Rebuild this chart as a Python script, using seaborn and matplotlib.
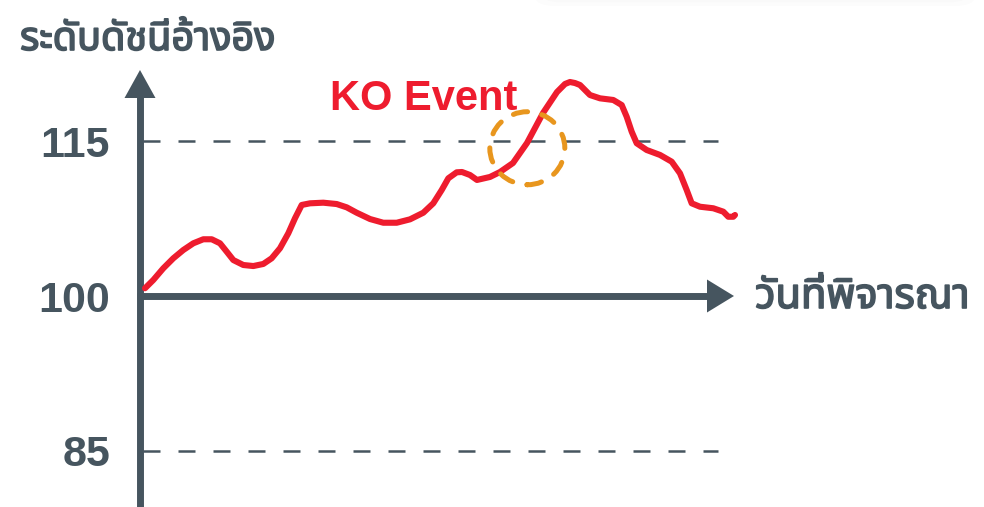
import numpy as np
import pandas as pd
import seaborn as sns
import matplotlib
matplotlib.use("Agg")
import matplotlib.pyplot as plt
from matplotlib import font_manager
from matplotlib.ft2font import FT2Font
from matplotlib.patches import Polygon, Ellipse, FancyBboxPatch
import matplotlib.patheffects as pe

# ---------------- data ----------------
days = [0.00, 1.41, 3.10, 4.80, 6.49, 8.19, 9.88, 11.31, 12.71, 13.85, 14.97, 16.66,
        18.36, 20.05, 21.47, 22.88, 24.29, 25.42, 26.56, 27.97, 30.22, 32.49, 34.19,
        35.88, 38.14, 40.39, 42.66, 44.92, 47.17, 48.86, 50.29, 51.41, 52.83, 53.73,
        55.08, 56.27, 58.47, 60.17, 62.37, 64.75, 67.46, 69.83, 71.19, 72.03, 72.88,
        73.73, 75.42, 77.12, 79.37, 80.80, 81.64, 82.49, 83.34, 85.03, 87.29, 89.27,
        90.68, 91.81, 92.66, 94.07, 96.32, 98.02, 98.86, 99.71, 100.00]
index_values = [100.75, 101.55, 102.68, 103.65, 104.45, 105.10, 105.49, 105.49, 105.10,
                104.29, 103.48, 103.00, 102.90, 103.10, 103.65, 104.62, 106.07, 107.52,
                108.81, 108.97, 109.03, 108.90, 108.58, 108.06, 107.45, 107.09, 107.09,
                107.42, 108.06, 108.97, 110.26, 111.39, 111.97, 112.00, 111.71, 111.23,
                111.52, 112.00, 112.87, 114.81, 117.71, 119.74, 120.52, 120.71, 120.61,
                120.42, 119.45, 119.13, 118.97, 118.48, 117.35, 115.90, 114.78, 114.13,
                113.65, 113.00, 111.87, 110.26, 108.97, 108.64, 108.49, 108.16, 107.67,
                107.67, 107.84]
tick_values = [115, 100, 85]
tick_labels = ["115", "100", "85"]
guide_levels = [115, 85]
event_day = 64.8
event_value = 114.3
event_label = "KO Event"
y_title = "ระดับดัชนีอ้างอิง"
x_title = "วันที่พิจารณา"

# ---------------- fonts ----------------
thai_cands = []
for f in font_manager.fontManager.ttflist:
    try:
        cm = FT2Font(f.fname).get_charmap()
        if 0x0E23 in cm and 0x0E14 in cm and 0x0E34 in cm:
            thai_cands.append(f)
    except Exception:
        pass
pref = ["Noto Sans Thai", "Sarabun", "Kanit", "Prompt", "IBM Plex Sans Thai",
        "Tlwg Typist", "Loma", "Garuda", "Noto Sans Thai Looped"]
thai_fam = None
for p in pref:
    if any(f.name == p for f in thai_cands):
        thai_fam = p
        break
if thai_fam is None and thai_cands:
    thai_cands.sort(key=lambda f: -(f.weight if isinstance(f.weight, int) else 400))
    thai_fam = thai_cands[0].name

sns.set_theme(style="white")
fams = ["Liberation Sans", "DejaVu Sans"]
if thai_fam:
    fams = ["Liberation Sans", thai_fam, "DejaVu Sans"]
plt.rcParams["font.family"] = fams
thai_fams = ([thai_fam] if thai_fam else []) + ["Liberation Sans", "DejaVu Sans"]

GRAY = "#46555f"
RED = "#ee1c2e"
ORANGE = "#e8961e"

W, H = 984, 507
fig = plt.figure(figsize=(W / 100, H / 100), dpi=100)
ax = fig.add_axes([0, 0, 1, 1])
ax.set_axis_off()

# pixel <-> data mapping for the layout frame
X0, XS = 145.0, 5.9     # day 0 at px 145, 5.9 px per day
Y0, YS = 296.0, 10.333  # value 100 at py 296, 10.333 px per unit
ax.set_xlim((0 - X0) / XS, (W - X0) / XS)
ax.set_ylim(100 - (H - Y0) / YS, 100 + Y0 / YS)


def P(px, py):
    return (px / W, 1 - py / H)


T = ax.transAxes

# faint shadow at the top right
for i in range(5):
    g = 6 * i
    ax.add_patch(FancyBboxPatch(P(535 + g, 6 - g * 0.6), (440 - 2 * g) / W, 40 / H,
                                boxstyle="round,pad=0,rounding_size=0.02",
                                transform=T, facecolor="black", edgecolor="none",
                                alpha=0.012, zorder=0))

# dashed guide lines
ax.hlines(guide_levels, (143 - X0) / XS, (718 - X0) / XS, colors=GRAY,
          linewidth=1.8, linestyles=[(0, (6.8, 7.2))], zorder=1)

# axes arrows
ax.plot([140 / W, 140 / W], [1 - 507 / H, 1 - 96 / H], transform=T,
        color=GRAY, linewidth=5.0, solid_capstyle="butt", zorder=3)
ax.add_patch(Polygon([P(124.5, 98), P(155.5, 98), P(140, 70)], closed=True,
                     transform=T, facecolor=GRAY, edgecolor="none", zorder=3))
ax.plot([137 / W, 709 / W], [1 - 296 / H, 1 - 296 / H], transform=T,
        color=GRAY, linewidth=5.0, solid_capstyle="butt", zorder=3)
ax.add_patch(Polygon([P(707, 279.5), P(707, 312.5), P(734, 296)], closed=True,
                     transform=T, facecolor=GRAY, edgecolor="none", zorder=3))

# index line
df = pd.DataFrame({"day": days, "value": index_values})
sns.lineplot(data=df, x="day", y="value", ax=ax, color=RED, linewidth=4.4,
             sort=False, estimator=None, zorder=4)
for ln in ax.lines[-1:]:
    ln.set_solid_capstyle("round")
    ln.set_solid_joinstyle("round")
    ln.set_antialiased(True)
ax.set_axis_off()

# KO event circle
ax.add_patch(Ellipse((event_day, event_value), 75 / XS, 73 / YS, fill=False,
                     edgecolor=ORANGE, linewidth=3.6, linestyle=(0, (2.9, 2.9)),
                     capstyle="round", zorder=5))
ax.text(330 / W, 1 - 110 / H, event_label, transform=T, color=RED, fontsize=30,
        fontweight="bold", ha="left", va="baseline", zorder=6)

# tick labels
for v, lab in zip(tick_values, tick_labels):
    ax.text(110 / W, v, lab, transform=ax.get_yaxis_transform(), color=GRAY,
            fontsize=31, fontweight="bold", ha="right", va="center_baseline")

# axis titles
thick = [pe.withStroke(linewidth=1.2, foreground=GRAY)]
ax.text(20 / W, 1 - 40 / H, y_title, transform=T, color=GRAY, fontsize=28.5,
        fontweight="bold", ha="left", va="center", family=thai_fams,
        path_effects=thick)
ax.text(755 / W, 1 - 297 / H, x_title, transform=T, color=GRAY, fontsize=30,
        fontweight="bold", ha="left", va="center", family=thai_fams,
        path_effects=thick)

fig.savefig("out.png", dpi=100)
